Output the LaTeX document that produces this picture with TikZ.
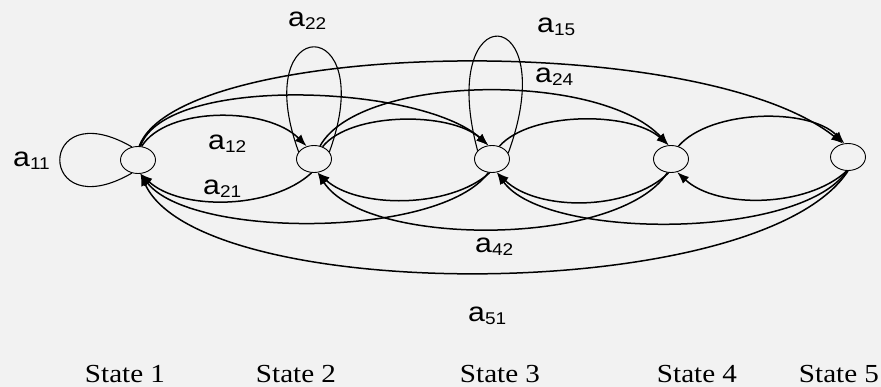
\documentclass[tikz,border=0pt]{standalone}
\usepackage{fontspec}
\setmainfont[FakeStretch=1.12]{Liberation Serif}
\newfontfamily\labelfont[FakeStretch=1.12]{Liberation Sans}
\usetikzlibrary{arrows.meta,shapes.geometric}
\definecolor{paper}{HTML}{F2F2F2}
\newcommand\trans[1]{a\raisebox{-3pt}{\fontsize{17}{17}\selectfont #1}}
\tikzset{stnode/.style={ellipse,draw,line width=.9pt,minimum width=35pt,minimum height=27pt,inner sep=0pt},
 prob/.style={font=\labelfont\fontsize{27}{30}\selectfont,anchor=base west,inner sep=0pt},
 stlabel/.style={font=\fontsize{26}{30}\selectfont,anchor=base,inner sep=0pt},
 arc/.style={-{Latex[length=12pt,width=9pt]},line width=1.5pt},
 selfloop/.style={line width=1.1pt}}

\begin{document}
\begin{tikzpicture}[x=1pt,y=-1pt]
\fill[paper] (0,0) rectangle (881,387);
\useasboundingbox (0,0) rectangle (881,387);
% states
\node[stnode] (s1) at (138,160) {};
\node[stnode] (s2) at (314,159) {};
\node[stnode] (s3) at (492,159) {};
\node[stnode] (s4) at (671,159) {};
\node[stnode] (s5) at (848,157) {};
\node[stlabel] (l1) at (125,382) {State 1};
\node[stlabel] (l2) at (296,382) {State 2};
\node[stlabel] (l3) at (500,382) {State 3};
\node[stlabel] (l4) at (697,382) {State 4};
\node[stlabel] (l5) at (839,382) {State 5};
% self transitions
\draw[selfloop] (s1.115) to[out=150,in=210,distance=111pt] (s1.245);
\draw[selfloop] (s2.155) to[out=110,in=70,distance=149pt] (s2.25);
\draw[selfloop] (s3.150) to[out=105,in=70,distance=162pt] (s3.20);
% forward transitions
\draw[arc] (s1.75) .. controls +(25,-40) and +(-40,-40) .. (s2.120);
\draw[arc] (s1.80) .. controls +(25,-72) and +(-68,-61) .. (s3.105);
\draw[arc] (s1.85) .. controls +(41,-107) and +(-143,-114) .. (s5.110);
\draw[arc] (s2.55) .. controls +(28,-35) and +(-38,-34) .. (s3.105);
\draw[arc] (s2.65) .. controls +(40,-72) and +(-69,-74) .. (s4.100);
\draw[arc] (s3.60) .. controls +(31,-35) and +(-38,-34) .. (s4.100);
\draw[arc] (s4.60) .. controls +(32,-37) and +(-35,-36) .. (s5.105);
% backward transitions
\draw[arc] (s2.260) .. controls +(-40,37) and +(40,37) .. (s1.280);
\draw[arc] (s3.260) .. controls +(-40,36) and +(40,36) .. (s2.285);
\draw[arc] (s4.260) .. controls +(-40,39) and +(40,39) .. (s3.290);
\draw[arc] (s5.265) .. controls +(-40,37) and +(40,37) .. (s4.295);
\draw[arc] (s3.255) .. controls +(-48,66) and +(50,65) .. (s1.280);
\draw[arc] (s4.255) .. controls +(-48,75) and +(48,75) .. (s2.285);
\draw[arc] (s5.265) .. controls +(-46,69) and +(48,68) .. (s3.290);
\draw[arc] (s5.270) .. controls +(-88,135) and +(60,132) .. (s1.280);
% probabilities
\node[prob] (p11) at (13,167) {\trans{11}};
\node[prob] (p22) at (288,27) {\trans{22}};
\node[prob] (p15) at (537,33) {\trans{15}};
\node[prob] (p24) at (535,83) {\trans{24}};
\node[prob] (p12) at (208,150) {\trans{12}};
\node[prob] (p21) at (203,195) {\trans{21}};
\node[prob] (p42) at (475,253) {\trans{42}};
\node[prob] (p51) at (468,322) {\trans{51}};
\end{tikzpicture}
\end{document}
